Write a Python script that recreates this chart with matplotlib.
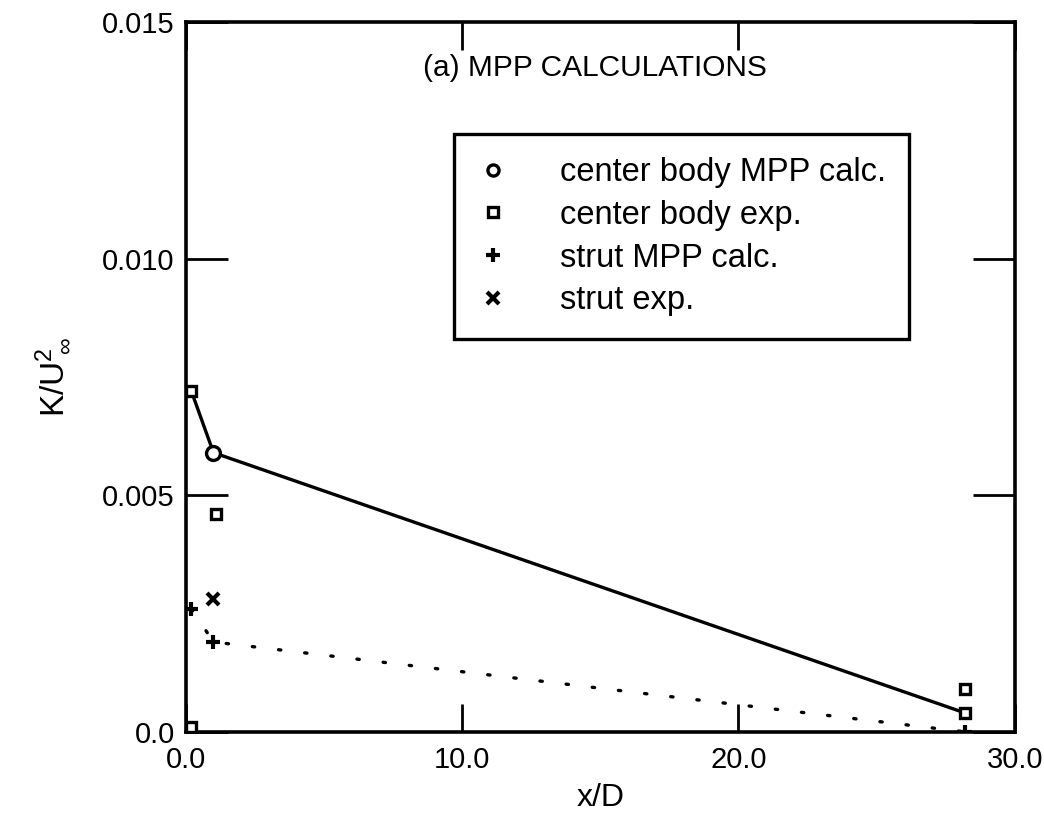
import matplotlib.pyplot as plt

plt.rcParams["font.family"] = ["Liberation Sans", "DejaVu Sans"]
plt.rcParams["mathtext.fontset"] = "custom"
plt.rcParams["mathtext.rm"] = "Liberation Sans"
plt.rcParams["mathtext.it"] = "Liberation Sans"

# center body, MPP calculation (solid line)
cb_calc_x = [0.2, 1.0, 28.2]
cb_calc_y = [0.0072, 0.0059, 0.0004]

# center body, experiment
cb_exp_x = [0.2, 1.1, 0.2, 28.2, 28.2]
cb_exp_y = [0.0072, 0.0046, 0.0001, 0.0009, 0.0004]

# strut, MPP calculation (dotted line)
st_calc_x = [0.2, 1.0, 28.2]
st_calc_y = [0.0026, 0.0019, 0.0000]

# strut, experiment
st_exp_x = [1.0]
st_exp_y = [0.0028]

fig = plt.figure(figsize=(10.44, 8.15), dpi=100)
ax = fig.add_axes([0.178, 0.102, 0.794, 0.871])

ax.plot(cb_calc_x, cb_calc_y, color="black", lw=2.4, zorder=2)
ax.plot(cb_calc_x[1:2], cb_calc_y[1:2], ls="none", marker="o", ms=10,
        mfc="white", mec="black", mew=2.4, zorder=3)
ax.plot(cb_exp_x, cb_exp_y, ls="none", marker="s", ms=7.5,
        mfc="white", mec="black", mew=2.4, zorder=4)
ax.plot(st_calc_x, st_calc_y, color="black", lw=2.4, ls=(0, (0.7, 7.2)),
        dash_capstyle="round", zorder=2)
ax.plot(st_calc_x, st_calc_y, ls="none", marker="+", ms=10, mew=3,
        color="black", zorder=3)
ax.plot(st_exp_x, st_exp_y, ls="none", marker="x", ms=9, mew=3,
        color="black", zorder=3)

# legend proxies
h1, = ax.plot([], [], ls="none", marker="o", ms=8, mfc="white", mec="black",
              mew=2.4, label="center body MPP calc.")
h2, = ax.plot([], [], ls="none", marker="s", ms=7, mfc="white", mec="black",
              mew=2.4, label="center body exp.")
h3, = ax.plot([], [], ls="none", marker="+", ms=10, mew=3, color="black",
              label="strut MPP calc.")
h4, = ax.plot([], [], ls="none", marker="x", ms=8, mew=3, color="black",
              label="strut exp.")
leg = ax.legend(handles=[h1, h2, h3, h4], loc="upper left",
                bbox_to_anchor=(0.323, 0.842), fontsize=23.5, frameon=True,
                fancybox=False, edgecolor="black", framealpha=1,
                handlelength=1.0, handletextpad=1.55, borderpad=0.7,
                labelspacing=0.36, borderaxespad=0)
leg.get_frame().set_linewidth(2.4)

ax.text(0.286, 0.935, "(a) MPP CALCULATIONS", transform=ax.transAxes,
        fontsize=21.5, va="center", ha="left")

ax.set_xlim(0, 30)
ax.set_ylim(0, 0.015)
ax.set_xticks([0, 10, 20, 30])
ax.set_xticklabels(["0.0", "10.0", "20.0", "30.0"])
ax.set_yticks([0, 0.005, 0.010, 0.015])
ax.set_yticklabels(["0.0", "0.005", "0.010", "0.015"])
ax.tick_params(axis="x", which="major", direction="in", length=20, width=2,
               top=True, labelsize=21, pad=10)
ax.tick_params(axis="y", which="major", direction="in", length=30, width=2,
               right=True, labelsize=21, pad=8)
for sp in ax.spines.values():
    sp.set_linewidth(2.6)

ax.set_xlabel("x/D", fontsize=23, labelpad=7)
# superscript 2 with the free-stream subscript set just after it
ax.set_ylabel(r"K/U$^{2}_{\,\,\infty}$", fontsize=24, labelpad=22)

fig.savefig("out.png", dpi=100)
